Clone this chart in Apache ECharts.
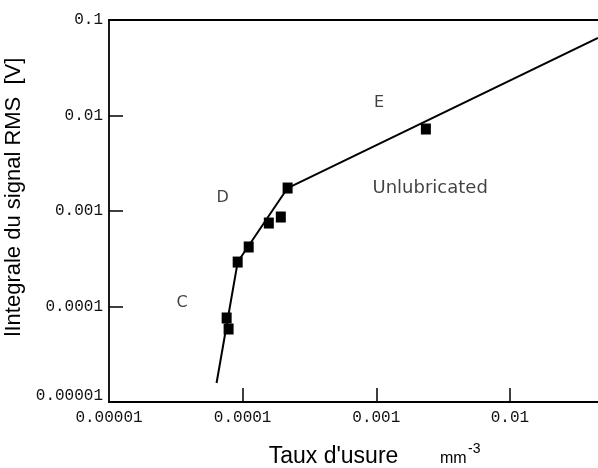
<!DOCTYPE html>
<html>
<head>
<meta charset="utf-8">
<script src="https://cdn.jsdelivr.net/npm/echarts@6/dist/echarts.min.js"></script>
<style>
html,body{margin:0;padding:0;background:#fff;}
#chart{width:598px;height:468px;}
</style>
</head>
<body>
<div id="chart"></div>
<script>
// ---- data ----
const xTickValues = [0.00001, 0.0001, 0.001, 0.01];
const xTickLabels = ['0.00001', '0.0001', '0.001', '0.01'];
const yTickValues = [0.00001, 0.0001, 0.001, 0.01, 0.1];
const yTickLabels = ['0.00001', '0.0001', '0.001', '0.01', '0.1'];
const xMin = 0.00001, xMax = 0.0456;
const yMin = 0.00001, yMax = 0.1;

// measured points (wear rate, RMS signal integral)
const wearRate    = [7.59e-5, 7.85e-5, 9.18e-5, 1.11e-4, 1.57e-4, 1.93e-4, 2.17e-4, 2.35e-3];
const rmsIntegral = [7.58e-5, 5.81e-5, 2.92e-4, 4.20e-4, 7.48e-4, 8.65e-4, 1.74e-3, 7.22e-3];

// fitted regime line C - D - E
const fitX = [6.38e-5, 9.18e-5, 2.17e-4, 0.0456];
const fitY = [1.58e-5, 2.92e-4, 1.74e-3, 0.0648];

// annotations
const noteText = ['C', 'D', 'E', 'Unlubricated'];
const noteX = [3.52e-5, 7.08e-5, 1.05e-3, 2.53e-3];
const noteY = [1.09e-4, 1.37e-3, 1.37e-2, 1.74e-3];

const xAxisTitle = "Taux d'usure";
const xUnit = 'mm';
const xUnitExp = '-3';
const yAxisTitle = 'lIntegrale du signal RMS  [V]';

function lookup(vals, labels, v) {
  for (let i = 0; i < vals.length; i++) {
    if (Math.abs(Math.log10(v) - Math.log10(vals[i])) < 1e-6) return labels[i];
  }
  return '';
}

const tickFont = 'Liberation Mono';
const chart = echarts.init(document.getElementById('chart'), null, {renderer: 'canvas'});
const option = {
  animation: false,
  backgroundColor: '#ffffff',
  grid: {left: 109, right: 0, top: 20, bottom: 66, containLabel: false, outerBoundsMode: 'none'},
  xAxis: [{
    type: 'log', logBase: 10, min: xMin, max: xMax,
    position: 'bottom',
    name: xAxisTitle, nameLocation: 'middle', nameGap: 43,
    nameTextStyle: {fontFamily: 'Liberation Sans', fontSize: 23, color: '#000', padding: [0, 40, 0, 0]},
    axisLine: {show: true, lineStyle: {color: '#000', width: 1.8}},
    axisTick: {show: true, inside: true, length: 14, customValues: xTickValues.slice(1), lineStyle: {color: '#000', width: 1.5}},
    axisLabel: {show: true, customValues: xTickValues, margin: 8, fontFamily: tickFont, fontSize: 16, color: '#111',
      formatter: v => lookup(xTickValues, xTickLabels, v)},
    splitLine: {show: false}, minorTick: {show: false}
  }, {
    type: 'log', logBase: 10, min: xMin, max: xMax,
    position: 'top',
    axisLine: {show: true, lineStyle: {color: '#000', width: 1.8}},
    axisTick: {show: false}, axisLabel: {show: false}, splitLine: {show: false}
  }],
  yAxis: {
    type: 'log', logBase: 10, min: yMin, max: yMax,
    name: yAxisTitle, nameLocation: 'middle', nameGap: 71, nameRotate: 90,
    nameTextStyle: {fontFamily: 'Liberation Sans', fontSize: 22, color: '#000', padding: [0, 0, 0, 28]},
    axisLine: {show: true, lineStyle: {color: '#000', width: 1.8}},
    axisTick: {show: true, inside: true, length: 14, customValues: yTickValues.slice(1, 4), lineStyle: {color: '#000', width: 1.5}},
    axisLabel: {show: true, customValues: yTickValues, margin: 6, fontFamily: tickFont, fontSize: 16, color: '#111',
      formatter: v => {
        const s = lookup(yTickValues, yTickLabels, v);
        return Math.abs(Math.log10(v) - Math.log10(yMin)) < 1e-6 ? '{low|' + s + '}' : s;
      },
      rich: {low: {fontFamily: tickFont, fontSize: 16, color: '#111', padding: [0, 0, 13, 0]}}
    },
    splitLine: {show: false}, minorTick: {show: false}
  },
  series: [{
    type: 'line', xAxisIndex: 0,
    data: fitX.map((x, i) => [x, fitY[i]]),
    showSymbol: false, symbol: 'none',
    lineStyle: {color: '#000', width: 2},
    z: 2
  }, {
    type: 'scatter', xAxisIndex: 0,
    data: wearRate.map((x, i) => [x, rmsIntegral[i]]),
    symbol: 'rect', symbolSize: [10, 11],
    itemStyle: {color: '#000', opacity: 1},
    emphasis: {disabled: true},
    z: 3
  }, {
    type: 'scatter', xAxisIndex: 0,
    data: noteText.map((t, i) => ({name: t, value: [noteX[i], noteY[i]]})),
    symbolSize: 0,
    label: {show: true, position: 'inside',
      formatter: p => p.name === 'Unlubricated' ? '{u|Unlubricated}' : p.name,
      fontFamily: 'DejaVu Sans', fontSize: 16, color: '#111',
      rich: {u: {fontFamily: 'DejaVu Sans', fontSize: 18, color: '#111'}}},
    emphasis: {disabled: true},
    z: 4
  }],
  graphic: [{
    type: 'text', left: 440, top: 451,
    style: {text: xUnit, font: '16px "Liberation Sans"', fill: '#000'}
  }, {
    type: 'text', left: 468, top: 442,
    style: {text: xUnitExp, font: '14px "Liberation Sans"', fill: '#000'}
  }]
};
chart.setOption(option);
</script>
</body>
</html>
